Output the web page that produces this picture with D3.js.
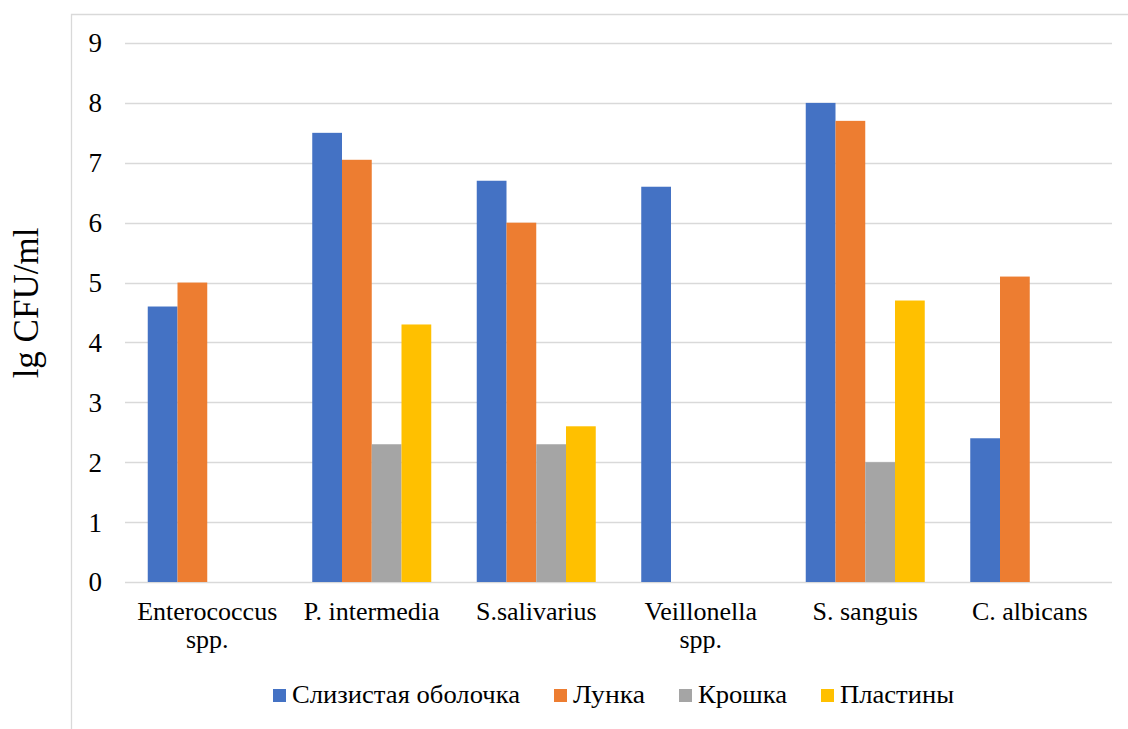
<!DOCTYPE html>
<html>
<head>
<meta charset="utf-8">
<script src="https://cdn.jsdelivr.net/npm/d3@7"></script>
<style>
  html, body { margin: 0; padding: 0; background: #fff; }
  svg text { font-family: "Liberation Serif", "Times New Roman", serif; fill: #000; }
</style>
</head>
<body>
<svg id="chart" width="1128" height="729"></svg>
<script>
// Bacterial counts (lg CFU/ml) per organism and sample source
const categories = [
  ["Enterococcus", "spp."],
  ["P. intermedia"],
  ["S.salivarius"],
  ["Veillonella", "spp."],
  ["S. sanguis"],
  ["C. albicans"]
];
const seriesNames = ["Слизистая оболочка", "Лунка", "Крошка", "Пластины"];
const mucosa  = [4.6, 7.5, 6.7, 6.6, 8.0, 2.4];
const socket  = [5.0, 7.05, 6.0, 0, 7.7, 5.1];
const crumb   = [0, 2.3, 2.3, 0, 2.0, 0];
const plates  = [0, 4.3, 2.6, 0, 4.7, 0];
const yTicks = [0, 1, 2, 3, 4, 5, 6, 7, 8, 9];
const yTitle = "lg CFU/ml";

const colors = ["#4472C4", "#ED7D31", "#A5A5A5", "#FFC000"];
const seriesValues = [mucosa, socket, crumb, plates];
// rendered widths of the legend labels (slightly condensed type)
const legendWidths = [228, 72, 89, 114];

const svg = d3.select("#chart");
const catKeys = categories.map(c => c.join(" "));

const plot = { left: 125, right: 1112, top: 43, bottom: 582 };

// chart area frame (left and top edges are visible)
svg.append("path")
  .attr("d", "M71.5,729 V14.5 H1128")
  .attr("fill", "none")
  .attr("stroke", "#d9d9d9")
  .attr("stroke-width", 1.3);

const y = d3.scaleLinear().domain([0, 9]).range([plot.bottom, plot.top]);
const gapRatio = 45.5 / 164.5;
const x0 = d3.scaleBand().domain(catKeys).range([plot.left, plot.right])
  .paddingInner(gapRatio).paddingOuter(gapRatio / 2);
const x1 = d3.scaleBand().domain(d3.range(seriesNames.length)).range([0, x0.bandwidth()]);

// gridlines
svg.append("g")
  .selectAll("line")
  .data(yTicks)
  .join("line")
  .attr("x1", plot.left).attr("x2", plot.right)
  .attr("y1", d => Math.round(y(d)) + 0.5).attr("y2", d => Math.round(y(d)) + 0.5)
  .attr("stroke", "#d9d9d9")
  .attr("stroke-width", 1.5);

// y tick labels
svg.append("g")
  .selectAll("text")
  .data(yTicks)
  .join("text")
  .attr("x", 102)
  .attr("y", d => y(d))
  .attr("dy", "0.35em")
  .attr("text-anchor", "end")
  .attr("font-size", 27)
  .text(d => d);

// bars
const groups = svg.append("g")
  .selectAll("g")
  .data(catKeys)
  .join("g")
  .attr("transform", d => `translate(${x0(d)},0)`);

groups.selectAll("rect")
  .data((d, i) => seriesValues.map((vals, s) => ({ s, v: vals[i] })))
  .join("rect")
  .filter(d => d.v > 0)
  .attr("x", d => x1(d.s))
  .attr("width", x1.bandwidth())
  .attr("y", d => y(d.v))
  .attr("height", d => y(0) - y(d.v))
  .attr("fill", d => colors[d.s]);

// category labels
const catLabels = svg.append("g")
  .selectAll("text")
  .data(categories)
  .join("text")
  .attr("x", (d, i) => x0(catKeys[i]) + x0.bandwidth() / 2)
  .attr("y", 620)
  .attr("text-anchor", "middle")
  .attr("font-size", 26);
catLabels.selectAll("tspan")
  .data(d => d)
  .join("tspan")
  .attr("x", function () { return this.parentNode.getAttribute("x"); })
  .attr("dy", (d, i) => i === 0 ? 0 : 28)
  .text(d => d);

// y axis title
svg.append("text")
  .attr("transform", "translate(38,303) rotate(-90)")
  .attr("text-anchor", "middle")
  .attr("font-size", 35)
  .text(yTitle);

// legend
const legend = svg.append("g");
let lx = 273;
seriesNames.forEach((name, i) => {
  legend.append("rect")
    .attr("x", lx).attr("y", 689)
    .attr("width", 13).attr("height", 13)
    .attr("fill", colors[i]);
  legend.append("text")
    .attr("x", lx + 19).attr("y", 703)
    .attr("font-size", 25)
    .attr("textLength", legendWidths[i])
    .attr("lengthAdjust", "spacingAndGlyphs")
    .text(name);
  lx += 19 + legendWidths[i] + 34;
});
</script>
</body>
</html>
